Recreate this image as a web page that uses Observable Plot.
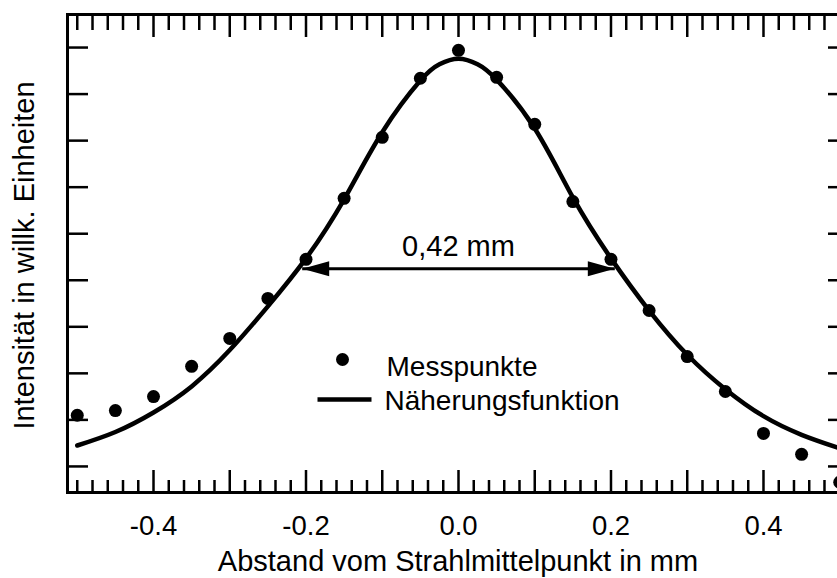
<!DOCTYPE html>
<html><head><meta charset="utf-8">
<script src="https://cdn.jsdelivr.net/npm/d3@7"></script>
<script src="https://cdn.jsdelivr.net/npm/@observablehq/plot@0.6"></script>
<style>
html,body{margin:0;padding:0;background:#fff;overflow:hidden;}
#chart svg{max-width:none;display:block;}
</style></head><body><div id="chart"></div>
<script>
// Messpunkte (measured points)
const messX = [-0.5,-0.45,-0.4,-0.35,-0.3,-0.25,-0.2,-0.15,-0.1,-0.05,0,0.05,0.1,0.15,0.2,0.25,0.3,0.35,0.4,0.45,0.5];
const messY = [1.10,1.20,1.50,2.15,2.75,3.61,4.45,5.76,7.07,8.34,8.94,8.36,7.35,5.69,4.45,3.35,2.36,1.61,0.71,0.26,-0.34];
// Näherungsfunktion (fit curve)
const fitX = [-0.5,-0.45,-0.4,-0.35,-0.3,-0.25,-0.2,-0.15,-0.1,-0.05,-0.025,0,0.025,0.05,0.1,0.15,0.2,0.25,0.3,0.35,0.4,0.45,0.5];
const fitY = [0.45,0.74,1.16,1.72,2.50,3.44,4.47,5.74,7.18,8.29,8.64,8.76,8.64,8.31,7.26,5.78,4.47,3.35,2.40,1.66,1.08,0.68,0.39];
// FWHM annotation
const fwhmX = [-0.205, 0.205];
const fwhmY = 4.25;
const fwhmLabel = "0,42 mm";
// ticks
const xMajorTicks = [-0.4,-0.3,-0.2,-0.1,0,0.1,0.2,0.3,0.4];
const xLabelTicks = [-0.4,-0.2,0,0.2,0.4];
const xMinorTicks = d3.range(-25, 26).map(i => +(i * 0.02).toFixed(2)).filter(v => !xMajorTicks.some(m => Math.abs(m - v) < 1e-9));
const yTicks = [0,1,2,3,4,5,6,7,8,9];
const xTitle = "Abstand vom Strahlmittelpunkt in mm";
const yTitle = "Intensität in willk. Einheiten";
const legendLabels = ["Messpunkte", "Näherungsfunktion"];

const points = messX.map((x, i) => ({x, y: messY[i]}));
const fit = fitX.map((x, i) => ({x, y: fitY[i]}));

const headLeft = {draw(ctx) { ctx.moveTo(0, 0); ctx.lineTo(27, -7.5); ctx.lineTo(27, 7.5); ctx.closePath(); }};
const hline = {draw(ctx) { ctx.moveTo(-27, 0); ctx.lineTo(27, 0); }};
const font = "'Liberation Sans', Arial, Helvetica, sans-serif";

const chart = Plot.plot({
  width: 860, height: 578,
  marginLeft: 67, marginRight: 12, marginTop: 14, marginBottom: 86,
  x: {domain: [-0.5128, 0.5115]},
  y: {domain: [-0.56, 9.71]},
  style: {fontFamily: font, color: "black", background: "white"},
  marks: [
    Plot.frame({stroke: "black", strokeWidth: 3}),
    // bottom ticks
    Plot.axisX(xMinorTicks, {anchor: "bottom", tickSize: -12, strokeWidth: 2.5, fill: "none", label: null}),
    Plot.axisX(xMajorTicks, {anchor: "bottom", tickSize: -22, strokeWidth: 2.5, fill: "none", label: null}),
    Plot.axisX(xLabelTicks, {anchor: "bottom", tickSize: 0, tickPadding: 23, fontSize: 27.5, tickFormat: d => d.toFixed(1), label: null}),
    // top ticks
    Plot.axisX(xMinorTicks, {anchor: "top", tickSize: -15, strokeWidth: 2.5, fill: "none", label: null}),
    Plot.axisX(xMajorTicks, {anchor: "top", tickSize: -22, strokeWidth: 2.5, fill: "none", label: null}),
    // left / right ticks
    Plot.axisY(yTicks, {anchor: "left", tickSize: -21, strokeWidth: 2.5, fill: "none", label: null}),
    Plot.axisY(yTicks, {anchor: "right", tickSize: -21, strokeWidth: 2.5, fill: "none", label: null}),
    // data
    Plot.line(fit, {x: "x", y: "y", curve: "natural", stroke: "black", strokeWidth: 4.5}),
    Plot.dot(points, {x: "x", y: "y", r: 6.5, fill: "black", stroke: "none"}),
    // FWHM arrow
    Plot.link([fwhmX], {x1: d => d[0], x2: d => d[1], y1: fwhmY, y2: fwhmY, stroke: "black", strokeWidth: 3}),
    Plot.dot(fwhmX, {x: d => d, y: fwhmY, symbol: headLeft, rotate: d => d < 0 ? 0 : 180, fill: "black", stroke: "none"}),
    Plot.text([fwhmLabel], {x: 0, y: fwhmY, text: d => d, dy: -13, lineAnchor: "bottom", fontSize: 29, fill: "black"}),
    // legend
    Plot.dot([legendLabels[0]], {frameAnchor: "top-left", dx: 342 - 67, dy: 359 - 14, r: 6.5, fill: "black", stroke: "none"}),
    Plot.dot([legendLabels[1]], {frameAnchor: "top-left", dx: 344 - 67, dy: 399 - 14, symbol: hline, stroke: "black", strokeWidth: 4.5, fill: "none"}),
    Plot.text([legendLabels[0]], {frameAnchor: "top-left", dx: 386 - 67, dy: 375 - 14, text: d => d, textAnchor: "start", lineAnchor: "bottom", fontSize: 28, fill: "black"}),
    Plot.text([legendLabels[1]], {frameAnchor: "top-left", dx: 384 - 67, dy: 409 - 14, text: d => d, textAnchor: "start", lineAnchor: "bottom", fontSize: 28, fill: "black"}),
    // axis titles
    Plot.text([xTitle], {frameAnchor: "bottom", dy: 78, text: d => d, textAnchor: "middle", lineAnchor: "bottom", fontSize: 29, fill: "black"}),
    Plot.text([yTitle], {frameAnchor: "left", dx: -43, dy: 2, rotate: -90, text: d => d, textAnchor: "middle", lineAnchor: "middle", fontSize: 29, fill: "black"})
  ]
});
document.getElementById("chart").appendChild(chart);
</script>
</body></html>
